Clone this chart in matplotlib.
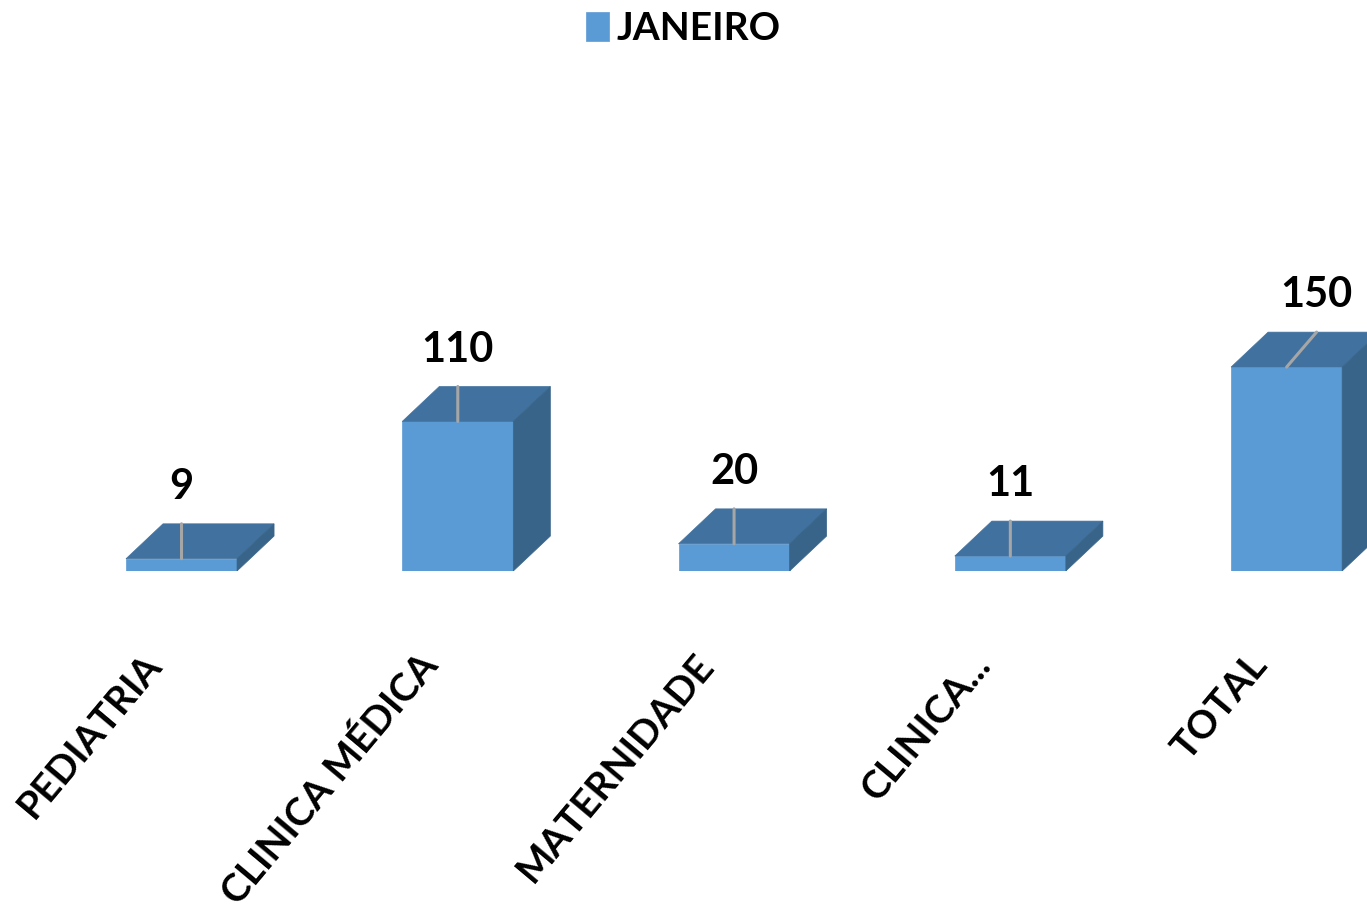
import matplotlib.pyplot as plt
from matplotlib.patches import Polygon

# data
categories = ["PEDIATRIA", "CLINICA MÉDICA", "MATERNIDADE", "CLINICA...", "TOTAL"]
janeiro = [9, 110, 20, 11, 150]
series_name = "JANEIRO"

front = "#5B9BD5"
top_c = "#41719E"
side_c = "#386489"
plt.rcParams['font.family'] = ['Lato', 'DejaVu Sans']
plt.rcParams['font.weight'] = 'bold'
fs = 30

fig = plt.figure(figsize=(13.67, 9.18), dpi=100)
ax = fig.add_axes([0, 0.378, 1, 0.622])
ax.set_xlim(-0.657, 4.291)
ax.set_ylim(0, 420)
ax.axis('off')

w = 0.402
dx = 0.134    # depth of the box in x units
dy = 25.7     # depth of the box in y units

bars = ax.bar(range(len(janeiro)), janeiro, width=w, color=front,
              edgecolor=front, linewidth=0.5, label=series_name)

label_shift = [0, 0, 0, 0, 30]  # px, last label pushed right like excel does
for i, v in enumerate(janeiro):
    x0, x1 = i - w / 2, i + w / 2
    ax.add_patch(Polygon([(x0, v), (x1, v), (x1 + dx, v + dy), (x0 + dx, v + dy)],
                         closed=True, facecolor=top_c, edgecolor=top_c, linewidth=0.5))
    ax.add_patch(Polygon([(x1, 0), (x1 + dx, dy), (x1 + dx, v + dy), (x1, v)],
                         closed=True, facecolor=side_c, edgecolor=side_c, linewidth=0.5))
    # leader line + value
    ax.annotate("", xy=(i, v), xytext=(label_shift[i], 35), textcoords='offset pixels',
                arrowprops=dict(arrowstyle='-', color='#A6A6A6', lw=2.2,
                                shrinkA=0, shrinkB=0))
    ax.annotate(str(v), xy=(i, v + dy), xytext=(label_shift[i], 25),
                textcoords='offset pixels', ha='center', va='baseline',
                fontsize=fs, color='black', annotation_clip=False)
    ax.annotate(categories[i], xy=(i, 0), xytext=(-40, -76), textcoords='offset pixels',
                ha='right', va='top', rotation=50, rotation_mode='anchor',
                fontsize=28, color='black', annotation_clip=False)

fig.legend(handles=[bars], loc='upper center', bbox_to_anchor=(0.5, 1.005),
           frameon=False, fontsize=28, handlelength=0.6, handleheight=0.8,
           handletextpad=0.2, borderaxespad=0.0)

fig.savefig("out.png", dpi=100)
